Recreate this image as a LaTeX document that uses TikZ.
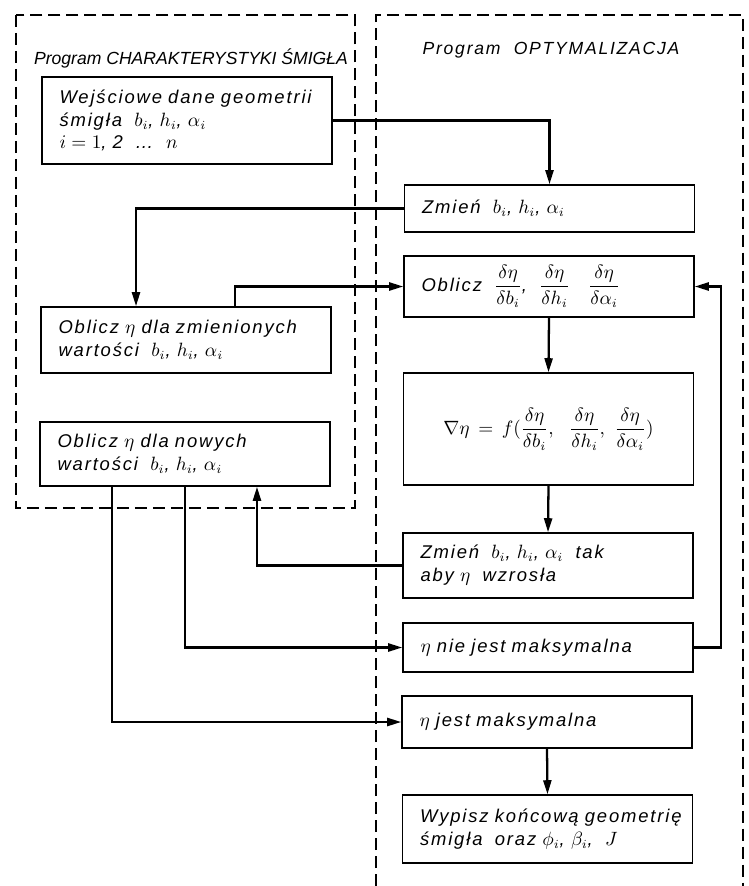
\documentclass[tikz,border=0pt]{standalone}
\usepackage{amsmath}
\usepackage{fontspec}
\setmainfont{Liberation Sans}
\newfontfamily\widesans[LetterSpace=10]{Liberation Sans}
\usetikzlibrary{arrows.meta}

\tikzset{
  box/.style={draw, line width=0.9pt, text width=5.1cm, inner xsep=0.35cm, inner ysep=0pt,
    align=left, font=\widesans\itshape\fontsize{10.5}{13}\selectfont},
  flow/.style={line width=1.3pt, -{Triangle[length=2.8mm,width=1.6mm]}},
  frame/.style={line width=0.6pt, dash pattern=on 0.24cm off 0.12cm},
  ttl/.style={font=\itshape\fontsize{10}{12}\selectfont}
}

\begin{document}
\begin{tikzpicture}[x=0.02cm, y=-0.02cm]
        \useasboundingbox (0,0) rectangle (748,886);
        \draw[frame] (16,15) rectangle (355,508);
        \draw[frame] (376,886) -- (376,15) -- (743,15) -- (743,886);
        \node[ttl] (ttlL) at (191,58) {Program CHARAKTERYSTYKI ŚMIGŁA};
        \node[ttl, font=\widesans\itshape\fontsize{10}{12}\selectfont] (ttlR) at (551,50) {Program \ OPTYMALIZACJA};

        \node[box, minimum height=1.74cm] (input) at (187,120.5) {Wejściowe dane geometrii\\ śmigła \ $b_i$, $h_i$, $\alpha_i$\\ $i = 1$, 2 \ \ldots\ \ $n$};
        \node[box, minimum height=0.94cm] (change) at (549.5,208.5) {Zmień \ $b_i$, $h_i$, $\alpha_i$};
        \node[box, minimum height=1.22cm] (deriv) at (549,286.5) {Oblicz \ $\dfrac{\delta\eta}{\delta b_i}$, \ $\dfrac{\delta\eta}{\delta h_i}$ \ \ $\dfrac{\delta\eta}{\delta\alpha_i}$};
        \node[box, minimum height=1.32cm] (evalA) at (186,340) {Oblicz $\eta$ dla zmienionych\\ wartości \ $b_i$, $h_i$, $\alpha_i$};
        \node[box, minimum height=2.24cm, align=center] (grad) at (548.5,429) {$\nabla\eta = f(\dfrac{\delta\eta}{\delta b_i},\ \ \dfrac{\delta\eta}{\delta h_i},\ \dfrac{\delta\eta}{\delta\alpha_i})$};
        \node[box, minimum height=1.28cm] (evalB) at (185,454) {Oblicz $\eta$ dla nowych\\ wartości \ $b_i$, $h_i$, $\alpha_i$};
        \node[box, minimum height=1.3cm] (update) at (548,565.5) {Zmień \ $b_i$, $h_i$, $\alpha_i$ \ tak\\ aby $\eta$ \ wzrosła};
        \node[box, minimum height=0.98cm] (notmax) at (548,647.5) {$\eta$ nie jest maksymalna};
        \node[box, minimum height=1.04cm] (ismax) at (547,722) {$\eta$ jest maksymalna};
        \node[box, minimum height=1.36cm] (output) at (547.5,829) {\mbox{Wypisz końcową geometrię}\\ śmigła \ oraz $\phi_i$, $\beta_i$, \ $J$};

        \draw[flow] (input.east) -| (change.north);
        \draw[flow] (change.west) -| ([xshift=-1cm]evalA.north);
        \draw[flow] ([xshift=0.98cm]evalA.north) |- (deriv.west);
        \draw[flow] (deriv.south) -- (grad.north);
        \draw[flow] (grad.south) -- (update.north);
        \draw[flow] (update.west) -| ([xshift=1.44cm]evalB.south);
        \draw[flow] (evalB.south) |- (notmax.west);
        \draw[flow] ([xshift=-1.46cm]evalB.south) |- (ismax.west);
        \draw[flow] (notmax.east) -- ++(0.54cm,0) |- (deriv.east);
        \draw[flow] (ismax.south) -- (output.north);
    \end{tikzpicture}
\end{document}
